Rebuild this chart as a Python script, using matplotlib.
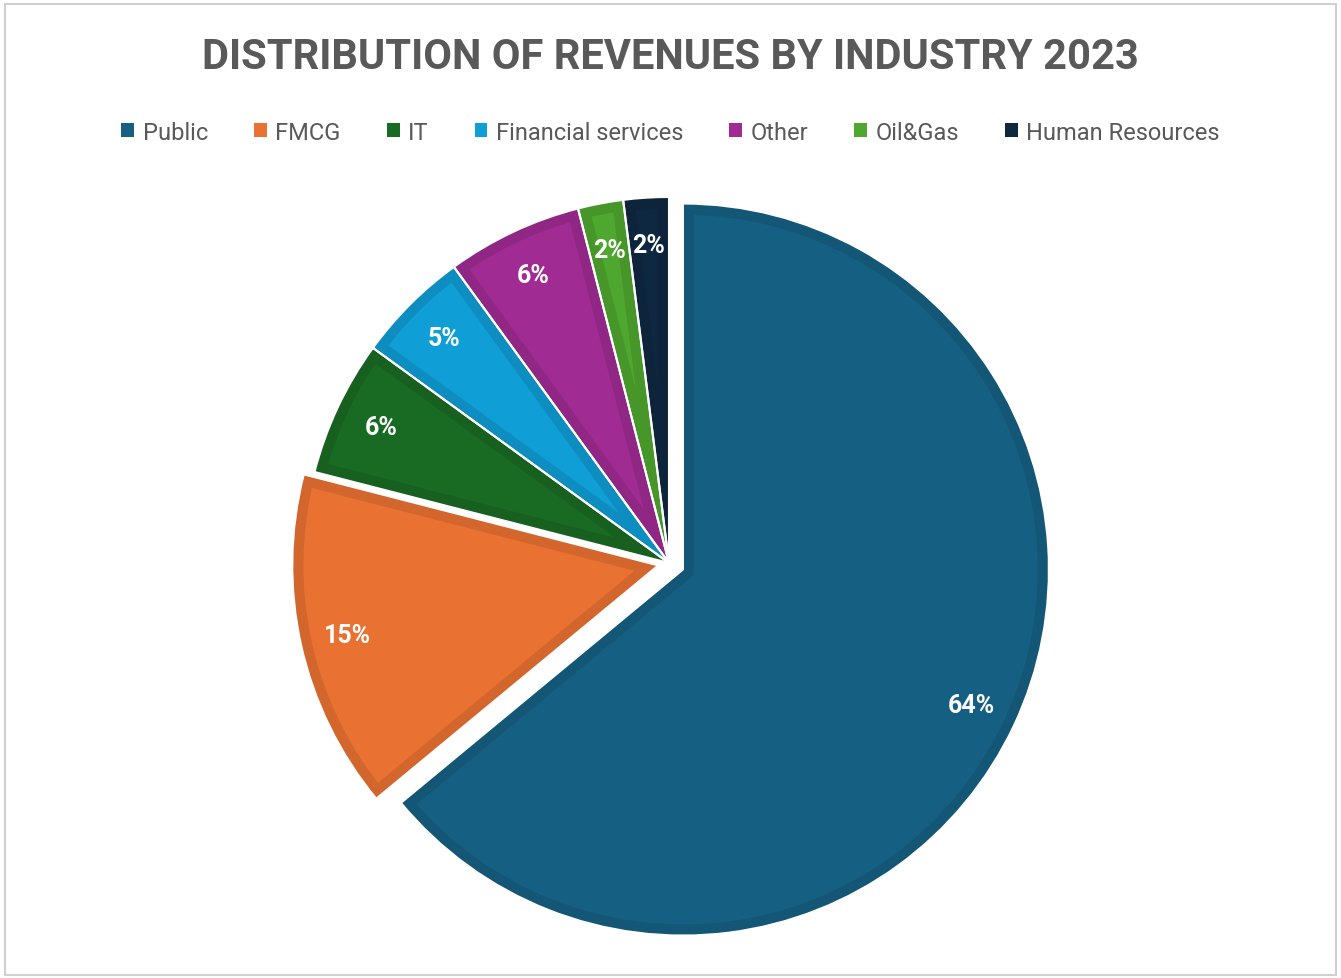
import matplotlib
matplotlib.use('Agg')
import matplotlib.pyplot as plt
import matplotlib.colors as mcolors
from matplotlib.patches import Rectangle, Patch

# datos
industries = ['Public', 'FMCG', 'IT', 'Financial services', 'Other', 'Oil&Gas', 'Human Resources']
shares = [64, 15, 6, 5, 6, 2, 2]
colors = ['#156082', '#E97132', '#196B24', '#0F9ED5', '#A02B93', '#4EA72E', '#0E2841']
explode = [0.042, 0.03, 0, 0, 0, 0, 0]

plt.rcParams['font.family'] = ['Roboto', 'DejaVu Sans']

fig = plt.figure(figsize=(13.41, 9.79), dpi=100)
fig.patch.set_facecolor('white')

# marco gris del grafico
fig.add_artist(Rectangle((0.004, 0.003), 0.992, 0.992, transform=fig.transFigure,
                         fill=False, edgecolor='#d0d0d0', linewidth=1.5))

W, H = 1341, 979
cx, cy, rad = 669, 979 - 564, 366
half = 1.1 * rad
ax = fig.add_axes([(cx - half) / W, (cy - half) / H, 2 * half / W, 2 * half / H])

def darker(c, f=0.9):
    r, g, b = mcolors.to_rgb(c)
    return (r * f, g * f, b * f)

# primera pasada: borde interior mas oscuro (recortado a la cuña)
wedges, texts, autotexts = ax.pie(
    shares, colors=colors, explode=explode, startangle=90, counterclock=False,
    autopct='%1.0f%%', pctdistance=0.87, radius=1.0,
    wedgeprops=dict(linewidth=0))
for w, c in zip(wedges, colors):
    w.set_edgecolor(darker(c))
    w.set_linewidth(16)
    w.set_joinstyle('miter')
    w.set_clip_path(w)
    w.set_clip_on(True)

# segunda pasada: lineas blancas de separacion
ax.pie(shares, explode=explode, startangle=90, counterclock=False, radius=1.0,
       wedgeprops=dict(facecolor='none', edgecolor='white', linewidth=1.5))

for t in autotexts:
    t.set_color('white')
    t.set_fontsize(18)
    t.set_fontweight('bold')
    t.set_zorder(10)

ax.set_xlim(-1.1, 1.1)
ax.set_ylim(-1.1, 1.1)
ax.set_aspect('equal')
ax.axis('off')

fig.text(0.5, 0.941, 'DISTRIBUTION OF REVENUES BY INDUSTRY 2023', ha='center', va='center',
         fontsize=30, fontweight='bold', color='#595959')

handles = [Patch(facecolor=c, edgecolor='none') for c in colors]
fig.legend(handles, industries, loc='center', bbox_to_anchor=(0.5, 0.864), ncol=7,
           frameon=False, fontsize=17, labelcolor='#595959', handlelength=0.55,
           handleheight=0.55, handletextpad=0.35, columnspacing=1.95)

plt.savefig('out.png', dpi=100)
